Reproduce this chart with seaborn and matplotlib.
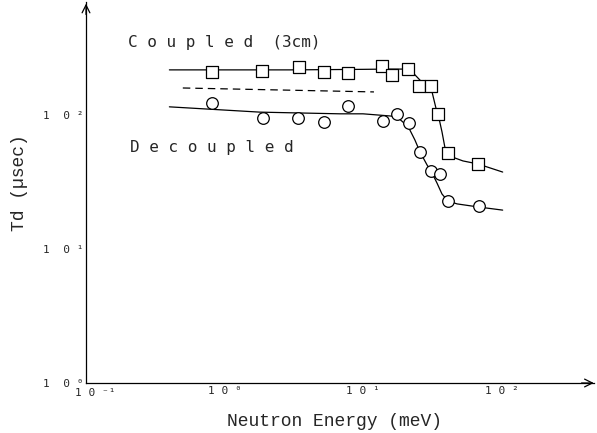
import numpy as np
import pandas as pd
import matplotlib
matplotlib.use("Agg")
import matplotlib.pyplot as plt
import matplotlib.transforms as mtransforms
import seaborn as sns

sns.set_style("white")

coupled_E = [0.81, 1.87, 3.45, 5.22, 7.80, 13.7, 16.2, 21.1, 25.4, 31.0, 34.8, 41.1, 67.6]
coupled_T = [209, 213, 228, 209, 206, 232, 199, 220, 165, 165, 102, 52, 43]

decoupled_E = [0.81, 1.90, 3.40, 5.22, 7.80, 13.9, 17.6, 21.5, 25.8, 31.0, 36.0, 41.1, 68.9]
decoupled_T = [123, 95, 95, 89, 117, 90, 102, 87, 53, 38.2, 36.3, 22.8, 20.9]

# fitted curves
coupled_fit_E = [0.40, 1.0, 3.0, 10, 15, 20, 23, 25.8, 29, 31.5, 33.6, 34.8, 37.2, 39.1, 41.1, 44, 52.7, 67.6, 102]
coupled_fit_T = [217, 217, 217, 219, 220, 220, 206, 182, 162, 149, 113, 102, 74.7, 56.7, 52, 48.6, 45.4, 43.1, 37.5]

decoupled_fit_E = [0.40, 1.80, 6.82, 10, 15.7, 17.6, 19.4, 21.8, 23.7, 25.8, 29.0, 31.5, 34.2, 37.2, 41.1, 47.8, 67.6, 102]
decoupled_fit_T = [115, 105, 102, 102, 98.3, 96.6, 88.7, 77.3, 65.1, 53.0, 42.4, 36.9, 31.1, 25.7, 22.8, 21.7, 20.6, 19.5]

# dashed reference line
dash_E = [0.50, 12.0]
dash_T = [159, 148.6]

x_ticks = [0.1, 1, 10, 100]
x_ticklabels = ["1 0 \u207b\u00b9", "1 0 \u2070", "1 0 \u00b9", "1 0 \u00b2"]
y_ticks = [1, 10, 100]
y_ticklabels = ["1  0 \u2070", "1  0 \u00b9", "1  0 \u00b2"]

fig = plt.figure(figsize=(5.97, 4.33), dpi=100)
ax = fig.add_axes([86 / 597, 50 / 433, 508 / 597, 381 / 433])

sns.lineplot(x=coupled_fit_E, y=coupled_fit_T, color="black", lw=0.9, ax=ax, sort=False)
sns.lineplot(x=decoupled_fit_E, y=decoupled_fit_T, color="black", lw=0.9, ax=ax, sort=False)
sns.lineplot(x=dash_E, y=dash_T, color="black", lw=0.9, ax=ax, sort=False, linestyle=(0, (6, 4)))

sns.scatterplot(x=coupled_E, y=coupled_T, marker="s", s=70, facecolor="white",
                edgecolor="black", linewidth=0.9, ax=ax, zorder=3)
sns.scatterplot(x=decoupled_E, y=decoupled_T, marker="o", s=70, facecolor="white",
                edgecolor="black", linewidth=0.9, ax=ax, zorder=3)

ax.set_xscale("log")
ax.set_yscale("log")
ax.set_xlim(0.1, 10 ** 2.668)
ax.set_ylim(1, 10 ** 2.843)
ax.minorticks_off()

ax.set_xticks(x_ticks)
ax.set_xticklabels(x_ticklabels, family="DejaVu Sans Mono", fontsize=8)
ax.set_yticks(y_ticks)
ax.set_yticklabels(y_ticklabels, family="DejaVu Sans Mono", fontsize=8)
ax.tick_params(axis="both", direction="in", length=10, width=0.9, color="black", pad=2)

# first x label sits a bit right of the corner in the original
first = ax.get_xticklabels()[0]
first.set_transform(first.get_transform() + mtransforms.ScaledTranslation(9 / 100, -2 / 100, fig.dpi_scale_trans))

for side in ["top", "right"]:
    ax.spines[side].set_visible(False)
for side in ["left", "bottom"]:
    ax.spines[side].set_color("black")
    ax.spines[side].set_linewidth(0.9)

# open arrow heads at the axis ends
ax.annotate("", xy=(1.005, 0), xytext=(0.97, 0), xycoords="axes fraction",
            arrowprops=dict(arrowstyle="->", lw=0.9, color="black", mutation_scale=14))
ax.annotate("", xy=(0, 1.003), xytext=(0, 0.96), xycoords="axes fraction",
            arrowprops=dict(arrowstyle="->", lw=0.9, color="black", mutation_scale=14))

ax.set_xlabel("Neutron Energy (meV)", family="Liberation Mono", fontsize=13, va="center")
ax.set_ylabel("Td (\u00b5sec)", family="Liberation Mono", fontsize=13, va="center")
ax.xaxis.set_label_coords(0.49, -0.102)
ax.yaxis.set_label_coords(-0.13, 0.525)

ax.text(0.20, 345, "C o u p l e d  (3cm)", family="DejaVu Sans Mono", fontsize=11.5,
        ha="left", va="center")
ax.text(0.208, 56.7, "D e c o u p l e d", family="DejaVu Sans Mono", fontsize=11.5,
        ha="left", va="center")

fig.savefig("out.png", dpi=100)
